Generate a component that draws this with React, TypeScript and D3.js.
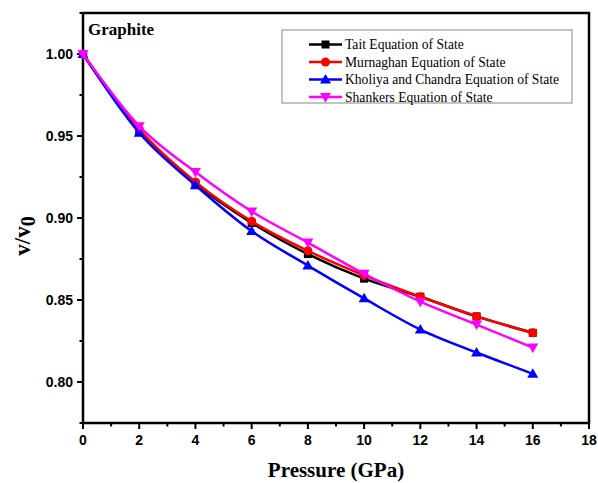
import React from "react";
import * as d3 from "d3";

const pressure = [0, 2, 4, 6, 8, 10, 12, 14, 16];
const tait = [1.0, 0.953, 0.921, 0.897, 0.878, 0.863, 0.852, 0.84, 0.83];
const murnaghan = [1.0, 0.954, 0.922, 0.898, 0.88, 0.865, 0.852, 0.84, 0.83];
const kholiya = [1.0, 0.952, 0.92, 0.892, 0.871, 0.851, 0.832, 0.818, 0.805];
const shankers = [1.0, 0.956, 0.928, 0.904, 0.885, 0.866, 0.849, 0.835, 0.821];
const xTicks = [0, 2, 4, 6, 8, 10, 12, 14, 16, 18];
const yTicks = [0.8, 0.85, 0.9, 0.95, 1.0];

const seriesNames = [
  "Tait Equation of State",
  "Murnaghan Equation of State",
  "Kholiya and Chandra Equation of State",
  "Shankers Equation of State",
];

const W = 598;
const H = 483;
const L = 83, R = 589, T = 13, B = 423;

type Marker = "square" | "circle" | "triUp" | "triDown";

function MarkerShape({ kind, x, y, color }: { kind: Marker; x: number; y: number; color: string }) {
  if (kind === "square") return <rect x={x - 4} y={y - 4} width={8} height={8} fill={color} />;
  if (kind === "circle") return <circle cx={x} cy={y} r={4.5} fill={color} />;
  if (kind === "triUp")
    return <path d={`M${x},${y - 5.5}L${x + 5.5},${y + 4}L${x - 5.5},${y + 4}Z`} fill={color} />;
  return <path d={`M${x},${y + 5.5}L${x + 5.5},${y - 4}L${x - 5.5},${y - 4}Z`} fill={color} />;
}

export default function App() {
  const x = d3.scaleLinear().domain([0, 18]).range([L, R]);
  const y = d3.scaleLinear().domain([0.775, 1.025]).range([B, T]);

  const series: { vals: number[]; color: string; marker: Marker }[] = [
    { vals: tait, color: "#000000", marker: "square" },
    { vals: murnaghan, color: "#ff0000", marker: "circle" },
    { vals: kholiya, color: "#0000ff", marker: "triUp" },
    { vals: shankers, color: "#ff00ff", marker: "triDown" },
  ];

  const line = d3
    .line<number>()
    .x((_, i) => x(pressure[i]))
    .y((d) => y(d))
    .curve(d3.curveMonotoneX);

  const xMinor = d3.range(0, 19, 1);
  const yMinor = d3.range(0.775, 1.026, 0.025);

  const serif = "'Liberation Serif', 'Times New Roman', serif";
  const sans = "'Liberation Sans', Arial, sans-serif";

  const legX = 282, legY = 30, legW = 290, legH = 73;
  const rowY = [44.5, 62, 79.5, 97];

  return (
    <svg width={W} height={H} style={{ position: "absolute", left: 0, top: 0, background: "#fff" }}>
      {/* frame */}
      <rect x={L} y={T} width={R - L} height={B - T} fill="none" stroke="#000" strokeWidth={2.5} />
      {/* x ticks */}
      {xMinor.map((v) => (
        <line key={"xm" + v} x1={x(v)} x2={x(v)} y1={B} y2={B + (v % 2 === 0 ? 6 : 3.5)} stroke="#000" strokeWidth={2} />
      ))}
      {xTicks.map((v) => (
        <text key={"xt" + v} x={x(v)} y={B + 22} textAnchor="middle" fontFamily={sans} fontWeight="bold" fontSize={14}>
          {v}
        </text>
      ))}
      {/* y ticks */}
      {yMinor.map((v, i) => (
        <line key={"ym" + i} x1={L} x2={L - (i % 2 === 1 ? 6 : 3.5)} y1={y(v)} y2={y(v)} stroke="#000" strokeWidth={2} />
      ))}
      {yTicks.map((v) => (
        <text key={"yt" + v} x={L - 10} y={y(v) + 5} textAnchor="end" fontFamily={sans} fontWeight="bold" fontSize={14}>
          {v.toFixed(2)}
        </text>
      ))}
      {/* axis labels */}
      <text x={336} y={477} textAnchor="middle" fontFamily={serif} fontWeight="bold" fontSize={21}>
        Pressure (GPa)
      </text>
      <text transform={`translate(30,${236}) rotate(-90)`} textAnchor="middle" fontFamily={serif} fontWeight="bold" fontSize={23}>
        v/v<tspan fontSize={20} dy={5}>0</tspan>
      </text>
      <text x={88} y={35} fontFamily={serif} fontWeight="bold" fontSize={17}>
        Graphite
      </text>
      {/* series */}
      {series.map((s, si) => (
        <g key={"s" + si}>
          <path d={line(s.vals) || ""} fill="none" stroke={s.color} strokeWidth={2.5} />
          {s.vals.map((v, i) => (
            <MarkerShape key={i} kind={s.marker} x={x(pressure[i])} y={y(v)} color={s.color} />
          ))}
        </g>
      ))}
      {/* legend */}
      <rect x={legX} y={legY} width={legW} height={legH} fill="#fff" stroke="#999" strokeWidth={1.2} />
      {series.map((s, si) => (
        <g key={"l" + si}>
          <line x1={309} x2={342} y1={rowY[si]} y2={rowY[si]} stroke={s.color} strokeWidth={2.5} />
          <MarkerShape kind={s.marker} x={325.5} y={rowY[si]} color={s.color} />
          <text x={345} y={rowY[si] + 4.5} fontFamily={serif} fontSize={13.6}>
            {seriesNames[si]}
          </text>
        </g>
      ))}
    </svg>
  );
}
